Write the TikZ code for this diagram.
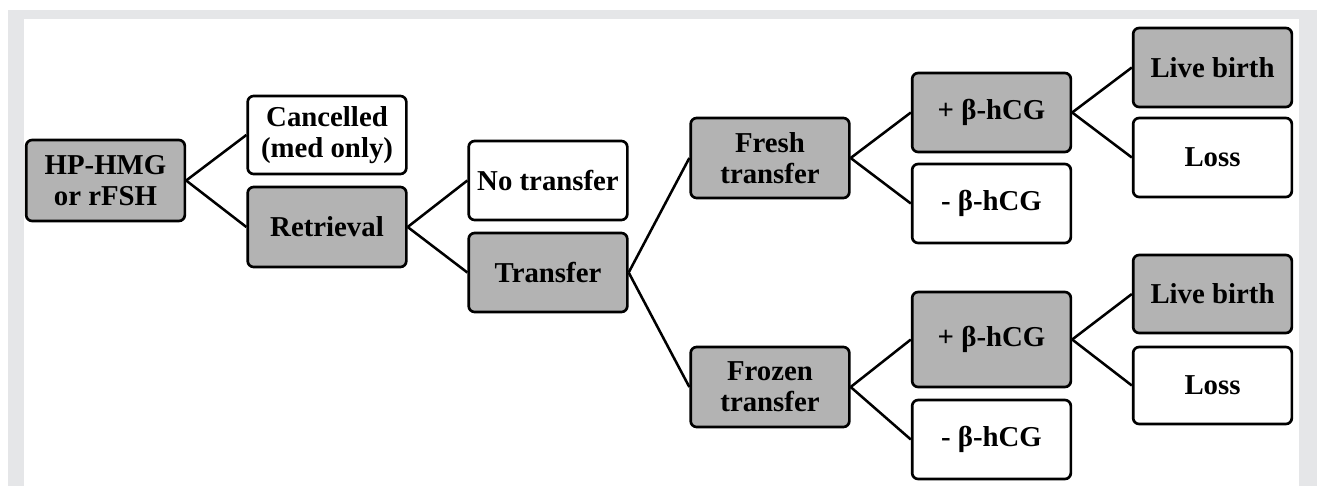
\documentclass[tikz,border=0pt]{standalone}
\usepackage{fontspec}
\setmainfont{Liberation Serif}
\definecolor{frameGray}{RGB}{229,230,232}
\definecolor{boxGray}{RGB}{179,179,179}
\begin{document}
\begin{tikzpicture}[x=0.75pt,y=-0.75pt,
  box/.style={draw=black, line width=2pt, rounded corners=4.5pt,
    minimum width=119pt, minimum height=59.25pt, inner sep=0pt, align=center,
    font=\fontsize{21.6}{23.5}\selectfont\bfseries},
  grayfill/.style={box, fill=boxGray},
  whitefill/.style={box, fill=white},
  conn/.style={draw=black, line width=1.9pt}]
\useasboundingbox (0,0) rectangle (1317,486);
\fill[white] (0,0) rectangle (1317,486);
\fill[frameGray] (8,10) rectangle (1317,486);
\fill[white] (24,19) rectangle (1299,486);

\node[grayfill, minimum height=60.75pt] (hp) at (105.5,180.5) {HP-HMG\\or rFSH};
\node[whitefill, minimum height=58.5pt] (canc) at (327,135) {Cancelled\\(med only)};
\node[grayfill, minimum height=60pt] (retr) at (327,227) {Retrieval};
\node[whitefill] (notr) at (548,180.5) {No transfer};
\node[grayfill] (trans) at (548,272.5) {Transfer};
\node[grayfill, minimum height=60pt] (fresh) at (770,158) {Fresh\\transfer};
\node[grayfill, minimum height=60pt] (frozen) at (770,387) {Frozen\\transfer};
\node[grayfill] (pos1) at (991.5,112.5) {+ β-hCG};
\node[whitefill] (neg1) at (991.5,203.5) {- β-hCG};
\node[grayfill] (live1) at (1212.5,67.5) {Live birth};
\node[whitefill] (loss1) at (1212.5,157.5) {Loss};
\node[grayfill, minimum height=71.25pt] (pos2) at (991.5,339.5) {+ β-hCG};
\node[whitefill] (neg2) at (991.5,439.5) {- β-hCG};
\node[grayfill, minimum height=58.5pt] (live2) at (1212.5,294) {Live birth};
\node[whitefill, minimum height=57.75pt] (loss2) at (1212.5,385.5) {Loss};

\draw[conn] (hp.east) -- (canc.west);
\draw[conn] (hp.east) -- (retr.west);
\draw[conn] (retr.east) -- (notr.west);
\draw[conn] (retr.east) -- (trans.west);
\draw[conn] (trans.east) -- (fresh.west);
\draw[conn] (trans.east) -- (frozen.west);
\draw[conn] (fresh.east) -- (pos1.west);
\draw[conn] (fresh.east) -- (neg1.west);
\draw[conn] (frozen.east) -- (pos2.west);
\draw[conn] (frozen.east) -- (neg2.west);
\draw[conn] (pos1.east) -- (live1.west);
\draw[conn] (pos1.east) -- (loss1.west);
\draw[conn] (pos2.east) -- (live2.west);
\draw[conn] (pos2.east) -- (loss2.west);
\end{tikzpicture}
\end{document}
